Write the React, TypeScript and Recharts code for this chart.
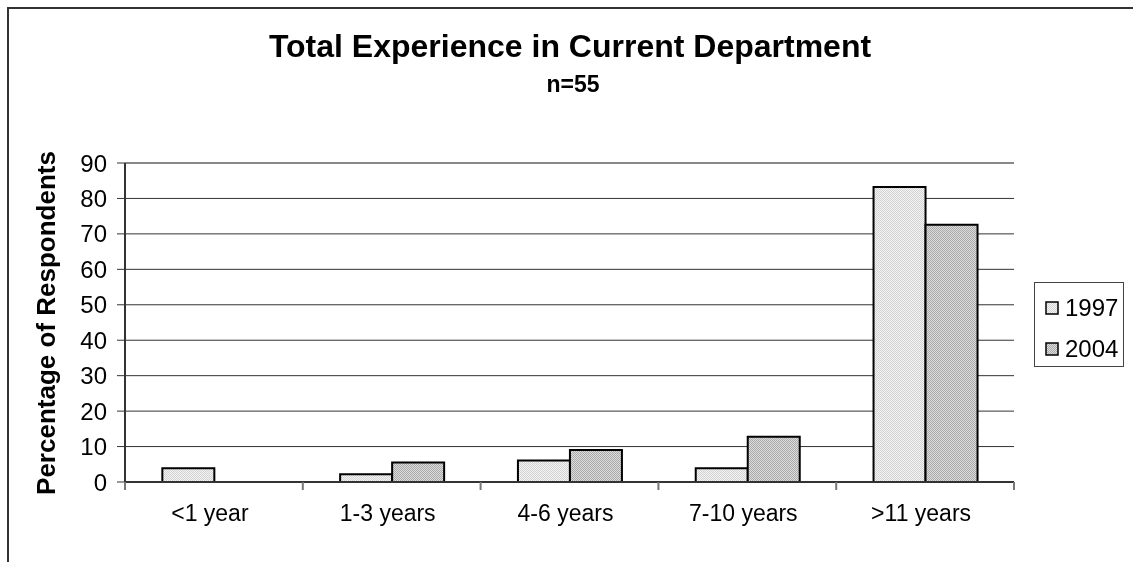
import React from 'react';
import {
  BarChart,
  Bar,
  XAxis,
  YAxis,
  CartesianGrid,
  ReferenceLine
} from 'recharts';

const categories = ['<1 year', '1-3 years', '4-6 years', '7-10 years', '>11 years'];
const values1997 = [3.9, 2.2, 6.1, 3.9, 83.2];
const values2004 = [0, 5.5, 9.0, 12.8, 72.6];
const yTicks = [0, 10, 20, 30, 40, 50, 60, 70, 80, 90];
const seriesNames = ['1997', '2004'];

const FONT = 'Arial, "Liberation Sans", sans-serif';

const CHART_W = 1110;
const CHART_H = 540;
const MARGIN = { top: 154, right: 105, bottom: 27, left: 0 };
const Y_AXIS_W = 116;
const PLOT_W = CHART_W - MARGIN.left - MARGIN.right - Y_AXIS_W;
const BAND = PLOT_W / categories.length;

const data = categories.map((c, i) => ({
  name: c,
  y1997: values1997[i],
  y2004: values2004[i]
}));

const XTick = (props: any) => {
  const { x, y, payload, index } = props;
  const left = x - BAND / 2;
  const isLast = index === categories.length - 1;
  return (
    <g>
      <line x1={left} y1={y} x2={left} y2={y + 8} stroke="#777" strokeWidth={2} />
      {isLast && (
        <line x1={x + BAND / 2} y1={y} x2={x + BAND / 2} y2={y + 8} stroke="#777" strokeWidth={2} />
      )}
      <text x={x - 4} y={y + 39} textAnchor="middle" fontSize={23} fontFamily={FONT} fill="#000">
        {payload.value}
      </text>
    </g>
  );
};

// legend drawn as a plain box to the right of the plot
const LegendBox = () => (
  <div style={{
    position: 'absolute',
    left: 1025,
    top: 273,
    width: 90,
    height: 85,
    border: '1px solid #444',
    background: '#fff',
    boxSizing: 'border-box',
    fontFamily: FONT,
    fontSize: 24,
    color: '#000',
    paddingTop: 8
  }}>
    {seriesNames.map((n, i) => (
      <div key={n} style={{ display: 'flex', alignItems: 'center', height: 34, marginTop: i === 0 ? 0 : 7 }}>
        <svg width={14} height={14} style={{ marginLeft: 10, marginRight: 6 }}>
          <rect x={1} y={1} width={12} height={12} fill={`url(#pat${n})`} stroke="#000" strokeWidth={1.5} />
        </svg>
        <span>{n}</span>
      </div>
    ))}
  </div>
);

export default function App() {
  return (
    <div style={{ position: 'relative', width: CHART_W, height: CHART_H, marginLeft: 1, marginTop: 1 }}>
      <div style={{
        position: 'fixed', left: 7, top: 7, width: 1300, height: 700,
        borderLeft: '2px solid #333', borderTop: '2px solid #333', pointerEvents: 'none'
      }} />
      <svg width={0} height={0} style={{ position: 'absolute' }}>
        <defs>
          <pattern id="pat1997" width={2} height={2} patternUnits="userSpaceOnUse">
            <rect width={2} height={2} fill="#f4f4f4" />
            <rect width={1} height={1} fill="#d2d2d2" />
            <rect x={1} y={1} width={1} height={1} fill="#d2d2d2" />
          </pattern>
          <pattern id="pat2004" width={2} height={2} patternUnits="userSpaceOnUse">
            <rect width={2} height={2} fill="#dcdcdc" />
            <rect width={1} height={1} fill="#aaaaaa" />
            <rect x={1} y={1} width={1} height={1} fill="#aaaaaa" />
          </pattern>
        </defs>
      </svg>

      <div style={{
        position: 'absolute', left: 161, width: 800, top: 21, textAlign: 'center',
        fontFamily: FONT, fontWeight: 'bold', fontSize: 32, lineHeight: 1, color: '#000'
      }}>
        Total Experience in Current Department
      </div>
      <div style={{
        position: 'absolute', left: 164, width: 800, top: 64, textAlign: 'center',
        fontFamily: FONT, fontWeight: 'bold', fontSize: 23, lineHeight: 1, color: '#000'
      }}>
        n=55
      </div>
      <div style={{
        position: 'absolute', left: 37, top: 314, width: 0, height: 0
      }}>
        <div style={{
          position: 'absolute', transform: 'translate(-50%, -50%) rotate(-90deg)',
          whiteSpace: 'nowrap', fontFamily: FONT, fontWeight: 'bold', fontSize: 26, color: '#000'
        }}>
          Percentage of Respondents
        </div>
      </div>

      <BarChart
        width={CHART_W}
        height={CHART_H}
        data={data}
        margin={MARGIN}
        barCategoryGap="21%"
        barGap={0}
      >
        <CartesianGrid vertical={false} stroke="#333" yAxisId="left" />
        <XAxis
          dataKey="name"
          axisLine={{ stroke: '#333', strokeWidth: 2 }}
          tickLine={false}
          tickSize={0}
          tickMargin={0}
          height={40}
          interval={0}
          tick={<XTick />}
        />
        <YAxis
          yAxisId="left"
          domain={[0, 90]}
          ticks={yTicks}
          interval={0}
          width={Y_AXIS_W}
          axisLine={{ stroke: '#333', strokeWidth: 2 }}
          tickLine={{ stroke: '#333' }}
          tickSize={8}
          tickMargin={10}
          tick={{ fontSize: 24, fill: '#000', fontFamily: FONT }}
        />
        <YAxis
          yAxisId="right"
          orientation="right"
          domain={[0, 90]}
          width={0}
          tick={false}
          tickLine={false}
          axisLine={{ stroke: '#888', strokeWidth: 2 }}
        />
        <ReferenceLine yAxisId="left" y={90} stroke="#888" strokeWidth={2} />
        <Bar
          yAxisId="left"
          dataKey="y1997"
          name="1997"
          fill="url(#pat1997)"
          stroke="#000"
          strokeWidth={2}
          isAnimationActive={false}
        />
        <Bar
          yAxisId="left"
          dataKey="y2004"
          name="2004"
          fill="url(#pat2004)"
          stroke="#000"
          strokeWidth={2}
          isAnimationActive={false}
        />
      </BarChart>
      <LegendBox />
    </div>
  );
}
